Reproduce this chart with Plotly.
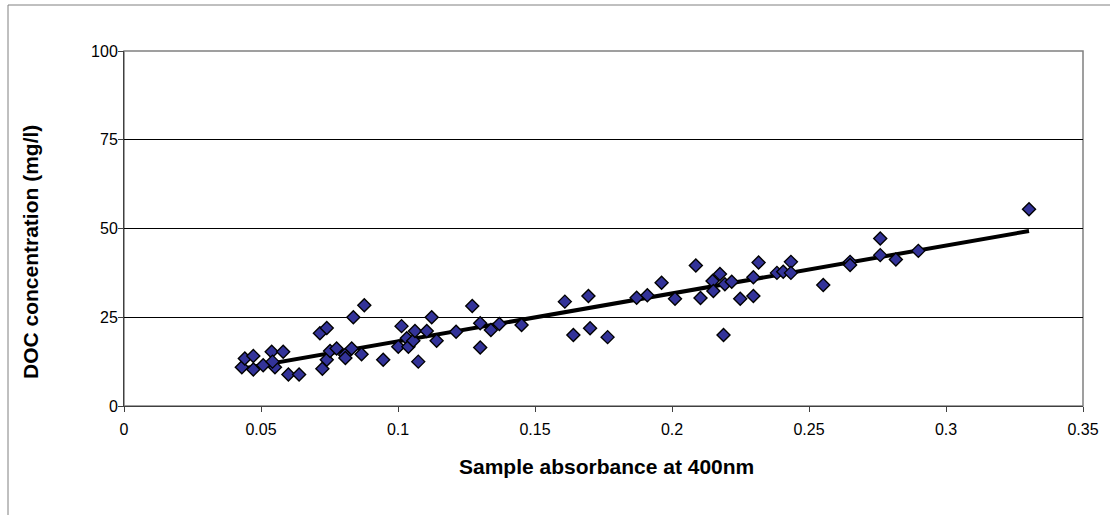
import numpy as np
import plotly.graph_objects as go

absorbance = [
    0.0430, 0.0441, 0.0472, 0.0472, 0.0508, 0.0539, 0.0551, 0.0542, 0.0581, 0.0600,
    0.0639, 0.0724, 0.0715, 0.0740, 0.0740, 0.0752, 0.0776, 0.0807, 0.0808, 0.0831,
    0.0867, 0.0837, 0.0877, 0.0946,
    0.1001, 0.1013, 0.1032, 0.1038, 0.1056, 0.1062, 0.1074, 0.1105, 0.1123, 0.1141,
    0.1212, 0.1271, 0.1300, 0.1300, 0.1339, 0.1370, 0.1451,
    0.1609, 0.1695, 0.1640, 0.1701, 0.1765, 0.1871, 0.1910, 0.1962, 0.2011, 0.2087,
    0.2104,
    0.2148, 0.2151, 0.2175, 0.2193, 0.2218, 0.2249, 0.2297, 0.2297, 0.2316, 0.2383,
    0.2406, 0.2434, 0.2434, 0.2552, 0.2650, 0.2650, 0.2188,
    0.2760, 0.2760, 0.2817, 0.2899, 0.3303,
]
doc_mg_l = [
    10.9, 13.4, 14.1, 10.3, 11.5, 15.3, 10.9, 12.5, 15.3, 8.9,
    8.9, 10.5, 20.5, 22.0, 13.0, 15.5, 16.2, 14.4, 13.5, 16.2,
    14.6, 25.0, 28.4, 13.0,
    16.7, 22.5, 19.1, 16.7, 18.4, 21.1, 12.5, 21.1, 25.0, 18.4,
    20.9, 28.2, 23.3, 16.5, 21.4, 23.1, 22.8,
    29.4, 31.0, 20.0, 21.9, 19.4, 30.5, 31.2, 34.7, 30.2, 39.6,
    30.4,
    35.2, 32.4, 37.2, 34.3, 35.0, 30.2, 31.0, 36.3, 40.4, 37.5,
    37.8, 40.6, 37.5, 34.1, 40.6, 39.7, 20.0,
    47.2, 42.5, 41.3, 43.7, 55.4,
]
# linear trendline as drawn in the reference
trend_slope = 135.0
trend_intercept = 4.7

x_ticks = [0, 0.05, 0.1, 0.15, 0.2, 0.25, 0.3, 0.35]
x_tick_labels = ["0", "0.05", "0.1", "0.15", "0.2", "0.25", "0.3", "0.35"]
y_ticks = [0, 25, 50, 75, 100]
y_tick_labels = ["0", "25", "50", "75", "100"]

trend_x = np.array([min(absorbance), max(absorbance)])
trend_y = trend_slope * trend_x + trend_intercept

FONT = "Liberation Sans, Arial, sans-serif"

fig = go.Figure()
fig.add_trace(go.Scatter(
    x=trend_x, y=trend_y, mode="lines",
    line=dict(color="black", width=4), hoverinfo="skip", showlegend=False,
))
fig.add_trace(go.Scatter(
    x=absorbance, y=doc_mg_l, mode="markers",
    marker=dict(symbol="diamond", size=10, color="#333399",
                line=dict(color="black", width=1.4)),
    showlegend=False,
))

W, H = 1110, 515
L, R, T, B = 124, W - 1083, 51, H - 406
pw, ph = W - L - R, H - T - B

fig.update_layout(
    width=W, height=H,
    margin=dict(l=L, r=R, t=T, b=B, pad=0),
    paper_bgcolor="white", plot_bgcolor="white",
    font=dict(family=FONT, size=16, color="black"),
    xaxis=dict(
        range=[0, 0.35], tickmode="array", tickvals=x_ticks, ticktext=x_tick_labels,
        ticks="outside", ticklen=5, tickcolor="#404040", showgrid=False,
        showline=True, linecolor="#404040", linewidth=1, zeroline=False,
        tickfont=dict(size=16), ticklabelstandoff=4,
    ),
    yaxis=dict(
        range=[0, 100], tickmode="array", tickvals=y_ticks, ticktext=y_tick_labels,
        ticks="outside", ticklen=5, tickcolor="#404040", showgrid=True,
        gridcolor="black", gridwidth=1, showline=True, linecolor="#404040",
        linewidth=1, zeroline=False, tickfont=dict(size=16), ticklabelstandoff=-3,
    ),
    shapes=[
        dict(type="rect", xref="paper", yref="paper", x0=0, y0=0, x1=1, y1=1,
             line=dict(color="#808080", width=1.5), layer="below"),
        dict(type="rect", xref="paper", yref="paper",
             x0=(8 - L) / pw, y0=(406 - 530) / ph, x1=(1125 - L) / pw, y1=(406 - 5) / ph,
             line=dict(color="#808080", width=1), layer="below"),
    ],
    annotations=[
        dict(text="<b>DOC concentration (mg/l)</b>", xref="paper", yref="paper",
             x=(30 - L) / pw, y=(406 - 252) / ph, textangle=-90, showarrow=False,
             font=dict(size=21, family=FONT), xanchor="center", yanchor="middle"),
        dict(text="<b>Sample absorbance at 400nm</b>", xref="paper", yref="paper",
             x=(606 - L) / pw, y=(406 - 466) / ph, showarrow=False,
             font=dict(size=21, family=FONT), xanchor="center", yanchor="middle"),
    ],
)

fig.write_html("out.html", config={"displayModeBar": False},
               post_script="document.body.style.margin='0';")
